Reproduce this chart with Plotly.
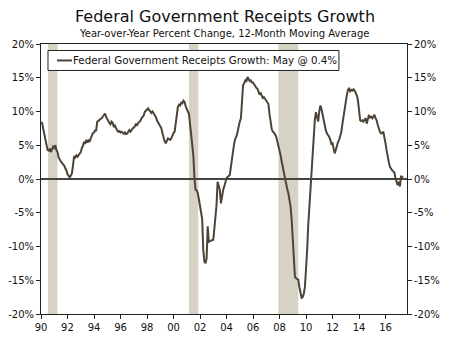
import pandas as pd
import plotly.graph_objects as go

# Federal receipts growth, year-over-year % change of the 12-month moving average (monthly)
receipts_1990s = [
    8.4, 8.3, 7.5, 6.6, 5.5, 4.8, 4.3, 4.2, 4.5, 4.0, 4.3, 4.8,        # 1990
    4.6, 5.0, 4.3, 4.0, 3.2, 2.8, 2.6, 2.4, 2.2, 2.0, 1.6, 1.3,        # 1991
    0.7, 0.4, 0.25, 0.5, 0.8, 2.0, 3.4, 3.2, 3.5, 3.3, 3.6, 3.8,       # 1992
    4.0, 4.6, 4.9, 5.5, 5.2, 5.8, 5.4, 5.7, 5.5, 6.0, 6.4, 6.8,        # 1993
    6.9, 7.2, 7.2, 8.5, 8.6, 8.8, 8.9, 9.0, 9.3, 9.5, 9.7, 9.2,        # 1994
    8.8, 8.6, 8.3, 8.1, 8.5, 8.3, 7.7, 7.9, 7.4, 7.2, 7.0, 7.1,        # 1995
    6.9, 7.0, 6.85, 6.7, 6.9, 6.65, 6.7, 7.0, 7.25, 7.0, 7.3, 7.5,     # 1996
    7.6, 7.8, 8.2, 7.9, 8.3, 8.5, 8.6, 9.0, 9.2, 9.4, 9.95, 10.1,      # 1997
    10.3, 10.45, 10.2, 9.9, 9.8, 10.0, 9.7, 9.6, 9.2, 8.7, 8.4, 8.0,   # 1998
    7.8, 7.5, 6.8, 5.9, 5.6, 5.3, 5.7, 6.0, 5.9, 5.8, 6.0, 6.5,        # 1999
]
receipts_2000s = [
    6.8, 7.0, 8.5, 9.5, 10.7, 11.0, 10.9, 11.3, 11.2, 11.6, 11.4, 10.8,          # 2000
    10.2, 10.0, 9.7, 8.0, 6.0, 4.8, 3.5, 0.1, -1.6, -1.7, -2.1, -3.0,            # 2001
    -4.3, -5.2, -5.9, -10.5, -12.2, -12.5, -11.8, -7.0, -9.3, -9.2, -9.1, -9.0,  # 2002
    -9.0, -7.3, -5.5, -3.85, -0.4, -1.0, -1.6, -3.6, -2.1, -1.6, -1.1, -0.5,     # 2003
    0.1, 0.3, 0.5, 0.6, 1.8, 3.1, 4.2, 5.3, 6.0, 6.3, 7.0, 8.0,                  # 2004
    8.5, 9.0, 12.4, 13.9, 14.2, 14.6, 14.4, 15.1, 14.8, 14.5, 14.6, 14.3,        # 2005
    14.3, 14.0, 13.8, 13.5, 13.4, 12.8, 12.5, 12.7, 12.3, 12.0, 12.1, 11.8,      # 2006
    11.5, 11.3, 11.1, 9.6, 8.0, 7.4, 7.0, 6.9, 6.6, 6.3, 5.6, 5.0,               # 2007
    4.4, 3.5, 2.6, 1.7, 1.0, 0.2, -0.5, -1.5, -2.1, -3.2, -4.1, -6.0,            # 2008
    -8.5, -12.0, -14.5, -14.7, -14.8, -14.9, -16.0, -16.8, -17.6, -17.5, -17.0, -16.0,  # 2009
]
receipts_2010s = [
    -13.5, -10.5, -7.0, -4.0, -1.5, 0.3, 3.8, 7.0, 8.8, 9.9, 8.9, 8.5,  # 2010
    10.0, 10.9, 10.4, 9.5, 8.7, 7.8, 7.2, 6.75, 6.5, 6.25, 5.8, 5.2,    # 2011
    5.3, 4.6, 3.8, 4.3, 5.0, 5.5, 5.8, 6.5, 7.0, 8.2, 9.5, 10.2,        # 2012
    11.7, 12.5, 13.2, 13.4, 13.0, 13.2, 13.1, 13.3, 13.1, 12.8, 12.4, 11.7,  # 2013
    10.5, 8.7, 8.6, 8.7, 8.5, 8.8, 9.0, 8.2, 8.7, 9.5, 9.1, 9.2,        # 2014
    9.0, 9.3, 9.5, 9.0, 8.7, 8.0, 7.25, 7.0, 6.75, 6.8, 7.0, 6.3,       # 2015
    5.3, 4.2, 3.1, 2.5, 1.8, 1.4, 1.3, 1.1, 1.0, 0.1, -0.4, -0.9,       # 2016
    -0.4, -1.1, 0.35, 0.3, 0.4,                                          # 2017 (Jan-May)
]

# NBER recessions
recession_starts = ["1990-07-15", "2001-03-01", "2007-12-01"]
recession_ends = ["1991-04-01", "2001-11-15", "2009-06-01"]

y_ticks = [-20, -15, -10, -5, 0, 5, 10, 15, 20]
y_tick_labels = [f"{v}%" for v in y_ticks]

values = receipts_1990s + receipts_2000s + receipts_2010s
dates = pd.date_range("1990-01-01", periods=len(values), freq="MS")

LINE = "#4e4337"
AXIS = "#222222"
FONT = "DejaVu Sans"

fig = go.Figure()
fig.add_trace(go.Scatter(
    x=dates, y=values, mode="lines",
    line=dict(color=LINE, width=2),
    name="Federal Government Receipts Growth: May @ 0.4%",
    showlegend=False,
))
# invisible trace so the right-hand axis is drawn
fig.add_trace(go.Scatter(
    x=[dates[0]], y=[values[0]], yaxis="y2", mode="markers",
    marker=dict(opacity=0), showlegend=False, hoverinfo="skip",
))

for s, e in zip(recession_starts, recession_ends):
    fig.add_shape(type="rect", xref="x", yref="paper", x0=s, x1=e, y0=0, y1=1,
                  fillcolor="#d6d2c4", line=dict(width=0), layer="below")

axis_font = dict(family=FONT, size=10, color="#111111")
fig.update_layout(
    width=450, height=339,
    margin=dict(l=41, r=43, t=43.5, b=25, autoexpand=False),
    paper_bgcolor="white", plot_bgcolor="white",
    font=dict(family=FONT, color="#111111"),
    title=dict(text="Federal Government Receipts Growth", x=0.5, xanchor="center",
               y=1 - 16 / 339, yanchor="middle", font=dict(family=FONT, size=16, color="#111111")),
    xaxis=dict(
        type="date", range=["1990-01-01", "2017-08-15"], automargin=False,
        tickformat="%y", dtick="M24", tick0="1990-01-01",
        ticks="outside", ticklen=4, tickwidth=1, tickcolor=AXIS,
        showline=True, linecolor=AXIS, linewidth=1, mirror=True,
        showgrid=False, zeroline=False, tickfont=axis_font,
    ),
    yaxis=dict(
        range=[-20, 20], tickvals=y_ticks, ticktext=y_tick_labels, automargin=False,
        ticks="outside", ticklen=4, tickwidth=1, tickcolor=AXIS,
        showline=True, linecolor=AXIS, linewidth=1,
        showgrid=False, zeroline=True, zerolinecolor="#444444", zerolinewidth=1.5,
        tickfont=axis_font,
    ),
    yaxis2=dict(
        range=[-20, 20], tickvals=y_ticks, ticktext=y_tick_labels, automargin=False,
        overlaying="y", side="right",
        ticks="outside", ticklen=4, tickwidth=1, tickcolor=AXIS,
        showline=True, linecolor=AXIS, linewidth=1,
        showgrid=False, zeroline=False, tickfont=axis_font,
    ),
)

# subtitle
fig.add_annotation(text="Year-over-Year Percent Change, 12-Month Moving Average",
                   xref="paper", yref="paper", x=0.5, y=1 + (43.5 - 33) / 270.5,
                   xanchor="center", yanchor="middle", showarrow=False,
                   font=dict(family=FONT, size=10, color="#111111"))

# legend box
fig.add_shape(type="rect", xref="paper", yref="paper", x0=0.0191, x1=0.814,
              y0=0.902, y1=0.976, fillcolor="white", line=dict(color=AXIS, width=1))
fig.add_shape(type="line", xref="paper", yref="paper", x0=0.0437, x1=0.0847,
              y0=0.939, y1=0.939, line=dict(color=LINE, width=2))
fig.add_annotation(text="Federal Government Receipts Growth: May @ 0.4%",
                   xref="paper", yref="paper", x=0.0847, y=0.939,
                   xanchor="left", yanchor="middle", showarrow=False, borderpad=0,
                   font=dict(family=FONT, size=10.3, color="#111111"))

fig.write_html("out.html")
